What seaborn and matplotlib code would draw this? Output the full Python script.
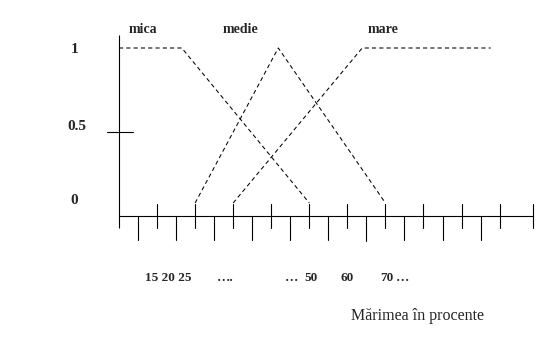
import matplotlib
matplotlib.use("Agg")
import matplotlib.pyplot as plt
import seaborn as sns
import pandas as pd

# ---- data (x in tick-index units, y = membership degree) ----
mica_x = [0, 3.3, 10]
mica_y = [1, 1, 0]
medie_x = [4, 8.37, 14]
medie_y = [0, 1, 0]
mare_x = [6, 12.78, 19.53]
mare_y = [0, 1, 1]
set_names = ["mica", "medie", "mare"]
y_labels = ["1", "0.5", "0"]
x_label_groups = ["15 20 25", "\u2026.", "\u2026", "50", "60", "70", "\u2026"]
axis_title = "M\u0103rimea \u00een procente"

df = pd.concat([
    pd.DataFrame({"u": mica_x, "m": mica_y, "set": "mica"}),
    pd.DataFrame({"u": medie_x, "m": medie_y, "set": "medie"}),
    pd.DataFrame({"u": mare_x, "m": mare_y, "set": "mare"}),
], ignore_index=True)

sns.set_style("white")
plt.rcParams["font.family"] = ["Liberation Serif", "DejaVu Serif"]

W, H = 547, 340
X0, SX = 119.0, 19.03   # px of u=0, px per tick
Y0, SY = 203.0, 155.0   # px of m=0, px per unit membership

fig = plt.figure(figsize=(W / 100, H / 100), dpi=100)
ax = fig.add_axes([0, 0, 1, 1])
ax.set_xlim(-X0 / SX, (W - X0) / SX)
ax.set_ylim((Y0 - H) / SY, Y0 / SY)
ax.axis("off")

def m_of(py):
    return (Y0 - py) / SY

def u_of(px):
    return (px - X0) / SX

# membership functions
sns.lineplot(data=df, x="u", y="m", units="set", estimator=None, sort=False,
             color="black", linewidth=0.75, linestyle=(0, (4, 3)), ax=ax,
             legend=False)

lw = 0.8
# y axis
ax.plot([0, 0], [m_of(35), m_of(228)], color="black", lw=lw, solid_capstyle="butt")
# 0.5 tick
ax.plot([u_of(107.3), u_of(133.3)], [m_of(131.7), m_of(131.7)], color="black", lw=lw)
# x axis
x_end = u_of(532.7)
ax.plot([0, x_end], [m_of(216), m_of(216)], color="black", lw=lw)
# ticks
for k in range(1, 21):
    if k % 2 == 0:
        ax.plot([k, k], [m_of(204), m_of(228)], color="black", lw=lw)
    else:
        bottom = 240.7 if k == 13 else 240
        ax.plot([k, k], [m_of(216), m_of(bottom)], color="black", lw=lw)
ax.plot([x_end, x_end], [m_of(204), m_of(228)], color="black", lw=lw)

def ftext(px, py, s, **kw):
    fig.text(px / W, 1 - py / H, s, **kw)

# set names
for name, cx in zip(set_names, [143, 240.5, 382.7]):
    ftext(cx, 32.7, name, ha="center", va="baseline", fontsize=10, fontweight="bold")

# y labels
for lab, cx, by in zip(y_labels, [74.5, 77, 74], [53, 130, 204.3]):
    ftext(cx, by, lab, ha="center", va="baseline", fontsize=11, fontweight="bold")

# x labels
for lab, cx in zip(x_label_groups, [168, 225, 292, 311, 347, 387, 402.5]):
    ftext(cx, 280.7, lab, ha="center", va="baseline", fontsize=9.5, fontweight="bold")

# axis title
ftext(417.5, 320, axis_title, ha="center", va="baseline", fontsize=11.5)

fig.savefig("out.png", dpi=100)
